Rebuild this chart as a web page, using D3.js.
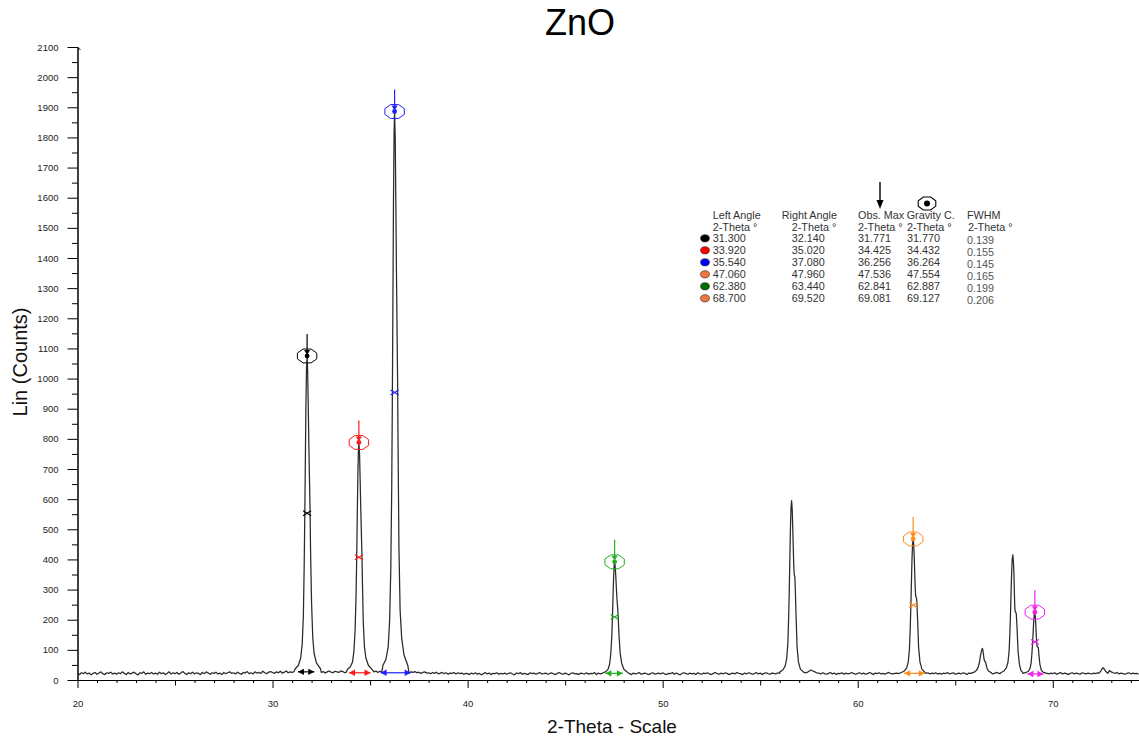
<!DOCTYPE html>
<html><head><meta charset="utf-8">
<script src="https://cdn.jsdelivr.net/npm/d3@7"></script>
<style>
body{margin:0;background:#fff}
svg{display:block}
text{font-family:"Liberation Sans",Arial,sans-serif}
</style>
</head><body>
<svg id="c" width="1139" height="738"></svg>
<script>
// ---------- DATA ----------
const xTickLabels = [20, 30, 40, 50, 60, 70];
const yTickLabels = [0,100,200,300,400,500,600,700,800,900,1000,1100,1200,1300,1400,1500,1600,1700,1800,1900,2000,2100];

// background scan (counts), start 20.0 deg, step 0.1 deg
const scanStart = 20.0, scanStep = 0.1;
const baseCounts = [
 22,18,24,21,26,20,23,17,22,25,19,23,27,21,18,24,22,26,20,23,
 19,24,21,27,22,18,25,20,23,26,21,17,24,22,27,19,23,21,25,20,
 23,19,26,21,24,18,22,27,20,24,21,25,19,23,28,22,18,24,21,26,
 20,24,22,18,25,21,27,23,19,24,22,26,20,23,18,25,21,24,27,22,
 24,20,26,22,19,25,23,28,21,24,20,27,23,25,22,29,24,21,26,28,
 25,22,27,24,29,23,26,30,24,27,25,28,23,29,26,24,31,27,25,28,
 26,29,24,27,31,25,28,23,27,30,26,24,29,27,25,30,28,24,27,29,
 27,24,29,26,30,25,28,31,26,29,24,28,27,30,25,29,26,31,28,25,
 28,26,30,27,25,29,27,24,28,26,23,27,25,28,24,26,22,25,27,23,
 24,21,25,22,26,20,23,25,21,24,19,23,22,25,20,24,21,23,19,22,
 21,18,23,20,24,19,22,17,21,25,20,23,18,22,21,24,19,22,20,23,
 19,22,24,20,17,23,21,25,19,22,20,18,24,21,23,19,22,25,20,21,
 23,19,21,24,20,18,22,25,21,19,23,20,17,22,24,20,21,18,23,21,
 20,24,19,22,21,25,18,23,20,22,24,19,21,23,20,25,22,19,24,21,
 22,19,24,21,18,23,20,22,25,19,21,23,20,18,22,24,19,21,23,20,
 24,20,18,22,21,25,19,23,20,17,22,24,21,19,23,20,22,18,24,21,
 19,23,21,24,20,18,22,25,21,19,23,20,24,22,18,21,23,20,25,22,
 21,18,23,20,24,22,19,21,25,20,23,18,22,24,21,19,23,22,20,24,
 22,25,21,24,23,26,22,25,24,27,23,26,28,24,25,29,33,30,27,24,
 23,20,24,21,19,22,25,20,23,18,22,21,24,19,23,20,22,25,21,19,
 22,24,20,23,19,21,25,22,18,23,21,24,20,22,19,23,25,21,20,22,
 23,21,24,20,22,25,19,23,21,24,22,20,23,25,21,22,24,20,23,21,
 24,20,22,19,23,21,25,20,22,24,19,21,23,20,24,22,18,23,21,22,
 21,24,20,23,22,25,21,23,24,20,22,25,23,21,24,22,26,23,20,24,
 22,25,23,21,24,22,26,23,21,25,22,24,20,23,25,21,24,22,20,23,
 21,24,19,22,25,20,23,21,18,22,24,20,23,21,19,24,22,20,23,21,
 20,23,21,24,22,26,29,33,37,31,27,24,22,25,20,23,21,19,22,24,
 20,23,21,22,19
];

// peak profiles [2-theta, counts]
const peak31 = [[31.17,38],[31.32,48],[31.44,72],[31.52,119],[31.58,214],[31.62,371],[31.65,529],[31.68,718],[31.71,907],[31.74,1033],[31.771,1075],
 [31.80,1023],[31.83,907],[31.86,781],[31.89,676],[31.92,571],[31.95,424],[32.00,256],[32.06,141],[32.13,88],[32.25,57],[32.45,38]];
const peak34 = [[33.83,35],[33.98,43],[34.10,60],[34.17,95],[34.23,163],[34.28,277],[34.31,392],[34.34,529],[34.37,666],[34.40,758],[34.425,788],
 [34.46,750],[34.49,666],[34.52,575],[34.55,498],[34.58,422],[34.61,316],[34.65,194],[34.71,110],[34.79,72],[34.91,49],[35.10,35]];
const peak36 = [[35.66,49],[35.81,68],[35.93,111],[36.00,194],[36.06,362],[36.11,640],[36.14,919],[36.17,1254],[36.20,1589],[36.23,1812],[36.256,1886],
 [36.29,1793],[36.32,1589],[36.35,1365],[36.38,1180],[36.41,994],[36.44,733],[36.48,436],[36.54,231],[36.62,139],[36.74,83],[36.93,49]];
const peak47 = [[46.94,24],[47.09,28],[47.21,37],[47.28,53],[47.34,87],[47.39,143],[47.42,199],[47.45,266],[47.48,332],[47.51,377],[47.536,392],
 [47.57,373],[47.60,340],[47.63,299],[47.66,266],[47.69,240],[47.72,210],[47.76,150],[47.82,90],[47.90,55],[48.02,35],[48.21,25]];
const peak56 = [[56.01,27],[56.16,33],[56.28,46],[56.36,72],[56.42,124],[56.46,210],[56.49,296],[56.52,400],[56.55,503],[56.58,572],[56.61,595],
 [56.64,566],[56.67,500],[56.70,430],[56.72,380],[56.74,355],[56.76,345],[56.78,340],[56.80,300],[56.84,210],[56.89,110],[56.96,60],[57.06,36],[57.25,25]];
const peak62 = [[62.24,25],[62.39,30],[62.51,40],[62.59,60],[62.65,101],[62.69,168],[62.72,235],[62.75,316],[62.78,396],[62.81,450],[62.841,468],
 [62.87,450],[62.90,400],[62.93,340],[62.95,300],[62.97,280],[62.99,275],[63.01,272],[63.03,262],[63.07,200],[63.12,110],[63.19,60],[63.29,36],[63.46,24]];
const peak66 = [[65.80,22],[65.97,26],[66.09,32],[66.17,42],[66.24,58],[66.29,80],[66.35,98],[66.39,105],[66.42,98],[66.45,82],[66.48,68],
 [66.51,62],[66.54,61],[66.57,55],[66.62,40],[66.70,30],[66.85,24]];
const peak67 = [[67.35,25],[67.50,30],[67.62,40],[67.70,58],[67.76,95],[67.80,155],[67.83,215],[67.86,285],[67.89,355],[67.92,400],[67.95,415],
 [67.98,395],[68.01,350],[68.03,290],[68.05,245],[68.07,228],[68.09,225],[68.11,224],[68.13,218],[68.17,170],[68.22,95],[68.29,52],[68.36,33],[68.44,26]];
const peak69 = [[68.48,22],[68.63,25],[68.75,29],[68.83,38],[68.89,57],[68.93,88],[68.96,118],[68.99,155],[69.02,192],[69.05,217],[69.081,225],
 [69.11,205],[69.14,170],[69.16,140],[69.18,120],[69.20,112],[69.22,110],[69.24,110],[69.26,106],[69.29,82],[69.34,52],[69.41,33],[69.52,25],[69.70,22]];
const peak72 = [[72.35,22],[72.45,28],[72.52,36],[72.58,41],[72.64,36],[72.72,28],[72.82,22]];

// peak search table
const leftAngle  = ["31.300","33.920","35.540","47.060","62.380","68.700"];
const rightAngle = ["32.140","35.020","37.080","47.960","63.440","69.520"];
const obsMax     = ["31.771","34.425","36.256","47.536","62.841","69.081"];
const gravityC   = ["31.770","34.432","36.264","47.554","62.887","69.127"];
const fwhm       = ["0.139","0.155","0.145","0.165","0.199","0.206"];
const peakCounts = [1075, 788, 1886, 392, 468, 225];
const halfMaxCounts = [553, 407, 954, 209, 248, 126];
const arrowCounts = [27, 24, 24, 22, 22, 20];
const markerColors = ["#000000","#ff1a1a","#2020ff","#22b022","#ff8c1a","#ee22ee"];
const legendColors = ["#000000","#ff0000","#0000ff","#f07840","#006e00","#f07840"];

// ---------- BUILD ----------
const svg = d3.select("#c");
const x = d3.scaleLinear().domain([20, 74.42]).range([77.5, 1139]);
const y = d3.scaleLinear().domain([0, 2100]).range([680, 47]);

const peaks = [peak31, peak34, peak36, peak47, peak56, peak62, peak66, peak67, peak69, peak72];
let pts = baseCounts.map((c, i) => [+(scanStart + i * scanStep).toFixed(2), c])
  .filter(([a]) => !peaks.some(p => a >= p[0][0] && a <= p[p.length - 1][0]));
peaks.forEach(p => { pts = pts.concat(p); });
pts.sort((a, b) => a[0] - b[0]);

// title
svg.append("text").attr("x", 580).attr("y", 35).attr("text-anchor", "middle")
  .attr("font-size", 36).attr("fill", "#000").text("ZnO");

// x axis: minor / medium / major ticks
const xMinor = d3.range(21, 75, 1).filter(v => v % 5 !== 0);
const xMedium = d3.range(25, 75, 10);
const gx = svg.append("g").attr("transform", "translate(0,680)");
gx.append("g").call(d3.axisBottom(x).tickValues(xMinor).tickSize(3).tickFormat("").tickSizeOuter(0));
gx.append("g").call(d3.axisBottom(x).tickValues(xMedium).tickSize(5.5).tickFormat("").tickSizeOuter(0));
gx.append("g").call(d3.axisBottom(x).tickValues(xTickLabels).tickSize(8).tickPadding(12).tickFormat(d3.format("d")).tickSizeOuter(0));
gx.selectAll("text").attr("font-size", 9.5).attr("fill", "#222").attr("font-family", "Liberation Sans, Arial, sans-serif");
gx.selectAll(".domain").attr("stroke", "#000");
gx.selectAll(".tick line").attr("stroke", "#000");

// y axis
const yMinor = d3.range(50, 2100, 100);
const gy = svg.append("g").attr("transform", "translate(77.5,0)");
gy.append("g").call(d3.axisLeft(y).tickValues(yMinor).tickSize(5.5).tickFormat("").tickSizeOuter(0));
gy.append("g").call(d3.axisLeft(y).tickValues(yTickLabels).tickSize(10).tickPadding(9).tickFormat(d3.format("d")).tickSizeOuter(0));
gy.selectAll("text").attr("font-size", 9.5).attr("fill", "#222").attr("font-family", "Liberation Sans, Arial, sans-serif");
gy.selectAll(".domain").attr("stroke", "#000");
gy.selectAll(".tick line").attr("stroke", "#000");
svg.append("path").attr("d", `M77.5,${y(2100)} l3,3`).attr("stroke", "#000").attr("fill", "none");

// axis titles
svg.append("text").attr("transform", "translate(26.5,362) rotate(-90)").attr("text-anchor", "middle")
  .attr("font-size", 20).attr("fill", "#111").text("Lin (Counts)");
svg.append("text").attr("x", 612).attr("y", 733).attr("text-anchor", "middle")
  .attr("font-size", 19).attr("fill", "#111").text("2-Theta - Scale");

// scan line
svg.append("path").datum(pts)
  .attr("d", d3.line().x(d => x(d[0])).y(d => y(d[1])))
  .attr("fill", "none").attr("stroke", "#2a2a2a").attr("stroke-width", 1.25).attr("stroke-linejoin", "round");

// peak markers
const octagon = (cx, cy, rx, ry) => d3.range(8).map(k => {
  const a = Math.PI / 8 + k * Math.PI / 4;
  return [cx + rx * Math.cos(a), cy + ry * Math.sin(a)];
});
obsMax.forEach((v, i) => {
  const col = markerColors[i];
  const g = svg.append("g");
  const cx = x(+v), cy = y(peakCounts[i]);
  g.append("line").attr("x1", cx).attr("x2", cx).attr("y1", cy - 22).attr("y2", cy - 4)
    .attr("stroke", col).attr("stroke-width", 1.2);
  g.append("polygon").attr("points", octagon(cx, cy, 10.5, 7.5).join(" "))
    .attr("fill", "none").attr("stroke", col).attr("stroke-width", 1);
  g.append("polygon").attr("points", [[cx - 3, cy - 6], [cx + 3, cy - 6], [cx, cy - 1]].join(" ")).attr("fill", col);
  g.append("circle").attr("cx", cx).attr("cy", cy).attr("r", 2.4).attr("fill", col);
  const hy = y(halfMaxCounts[i]);
  g.append("path").attr("d", `M${cx - 4},${hy - 2.5}L${cx + 4},${hy + 2.5}M${cx - 4},${hy + 2.5}L${cx + 4},${hy - 2.5}`)
    .attr("stroke", col).attr("stroke-width", 1.2).attr("fill", "none");
  const ay = y(arrowCounts[i]), xl = x(+leftAngle[i]), xr = x(+rightAngle[i]);
  g.append("line").attr("x1", xl).attr("x2", xr).attr("y1", ay).attr("y2", ay).attr("stroke", col).attr("stroke-width", 1.2);
  g.append("polygon").attr("points", [[xl, ay], [xl + 6, ay - 3.2], [xl + 6, ay + 3.2]].join(" ")).attr("fill", col);
  g.append("polygon").attr("points", [[xr, ay], [xr - 6, ay - 3.2], [xr - 6, ay + 3.2]].join(" ")).attr("fill", col);
});

// legend table
const lg = svg.append("g").attr("font-size", 10.8).attr("fill", "#333");
lg.append("line").attr("x1", 880).attr("x2", 880).attr("y1", 182).attr("y2", 203).attr("stroke", "#000").attr("stroke-width", 1.4);
lg.append("polygon").attr("points", [[876.5, 200], [883.5, 200], [880, 209]].join(" ")).attr("fill", "#000");
lg.append("polygon").attr("points", octagon(927, 203.5, 9.5, 7).join(" ")).attr("fill", "none").attr("stroke", "#000").attr("stroke-width", 1.1);
lg.append("circle").attr("cx", 927).attr("cy", 203.5).attr("r", 3).attr("fill", "#000");

const heads = [["Left Angle", 712.7], ["Right Angle", 781.7], ["Obs. Max", 858], ["Gravity C.", 906.7], ["FWHM", 967]];
heads.forEach(([t, hx]) => lg.append("text").attr("x", hx).attr("y", 219).text(t));
const subs = [712.7, 791.7, 858, 907, 968];
subs.forEach(sx => lg.append("text").attr("x", sx).attr("y", 230.5).text("2-Theta °"));
leftAngle.forEach((v, i) => {
  const ry = 242 + i * 12;
  lg.append("ellipse").attr("cx", 705).attr("cy", ry - 3.7).attr("rx", 4.4).attr("ry", 3.6)
    .attr("fill", legendColors[i]).attr("stroke", "#222").attr("stroke-width", 0.6);
  lg.append("text").attr("x", 712.7).attr("y", ry).text(v);
  lg.append("text").attr("x", 791.7).attr("y", ry).text(rightAngle[i]);
  lg.append("text").attr("x", 858).attr("y", ry).text(obsMax[i]);
  lg.append("text").attr("x", 907).attr("y", ry).text(gravityC[i]);
  lg.append("text").attr("x", 967).attr("y", ry + 2).attr("fill", "#555").text(fwhm[i]);
});
</script>
</body></html>
